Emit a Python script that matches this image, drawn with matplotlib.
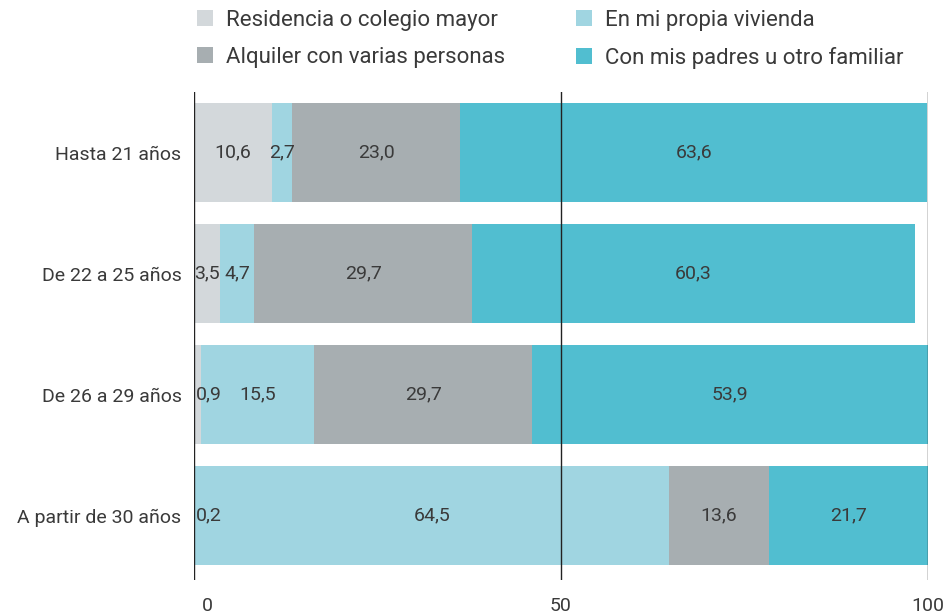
import matplotlib.pyplot as plt
import numpy as np

plt.rcParams['font.family'] = ['Roboto', 'DejaVu Sans']

categories = ['Hasta 21 años', 'De 22 a 25 años', 'De 26 a 29 años', 'A partir de 30 años']
series = ['Residencia o colegio mayor', 'En mi propia vivienda',
          'Alquiler con varias personas', 'Con mis padres u otro familiar']
residencia = [10.6, 3.5, 0.9, 0.2]
propia = [2.7, 4.7, 15.5, 64.5]
alquiler = [23.0, 29.7, 29.7, 13.6]
padres = [63.6, 60.3, 53.9, 21.7]
xticks = [0, 50, 100]
colors = ['#d3d8db', '#a0d5e1', '#a7aeb1', '#51bed0']

values = [residencia, propia, alquiler, padres]
text_color = '#3a3a3a'

fig = plt.figure(figsize=(9.52, 6.15), dpi=100)
ax = fig.add_axes([194 / 952, 1 - 580 / 615, 734 / 952, 488 / 615])

y = np.arange(len(categories))
left = np.zeros(len(categories))
handles = []
for name, vals, col in zip(series, values, colors):
    vals = np.array(vals)
    h = ax.barh(y, vals, left=left, height=0.815, color=col, label=name, zorder=2)
    handles.append(h)
    for yi, l, v in zip(y, left, vals):
        txt = f'{v:.1f}'.replace('.', ',')
        if v < 2:
            ax.text(l + 0.3, yi, txt, ha='left', va='center',
                    fontsize=14, color=text_color, zorder=4)
        else:
            ax.text(l + v / 2, yi, txt, ha='center', va='center',
                    fontsize=14, color=text_color, zorder=4)
    left = left + vals

for x in xticks:
    ax.axvline(x, color='#222222', lw=1, zorder=3)

ax.set_xlim(0, 100)
ax.set_ylim(3.53, -0.5)
ax.set_yticks(y)
ax.set_yticklabels(categories, fontsize=14, color=text_color)
ax.set_xticks(xticks)
ax.set_xticklabels([])
# x labels: the 0 sits a little right of its line
for x in xticks:
    dx = 1.8 if x == 0 else 0
    ax.text(x + dx, -0.035, str(x), transform=ax.get_xaxis_transform(),
            ha='center', va='top', fontsize=14, color=text_color)
ax.tick_params(axis='both', length=0)
ax.tick_params(axis='y', pad=9)
for s in ax.spines.values():
    s.set_visible(False)

# legend filled row by row: two columns
order = [0, 2, 1, 3]
leg = fig.legend([handles[i] for i in order], [series[i] for i in order],
                 loc='upper left', bbox_to_anchor=(177 / 952, 1.017),
                 ncol=2, frameon=False, fontsize=16, handlelength=0.7, handleheight=0.7,
                 handletextpad=0.6, columnspacing=3.2, labelspacing=0.72)
for t in leg.get_texts():
    t.set_color(text_color)

fig.savefig('out.png', dpi=100)
